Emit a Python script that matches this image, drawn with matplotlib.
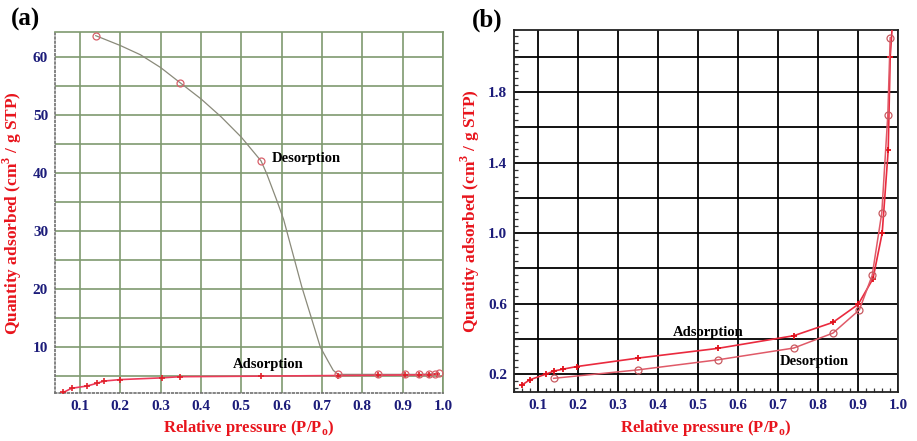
import matplotlib.pyplot as plt
from matplotlib.ticker import MultipleLocator

plt.rcParams['font.family'] = ['Liberation Serif', 'DejaVu Serif']
plt.rcParams['mathtext.fontset'] = 'custom'
plt.rcParams['mathtext.rm'] = 'Liberation Serif'
plt.rcParams['mathtext.bf'] = 'Liberation Serif:bold'

# panel (a) - desorption curve path and its marked points
des_a_x = [0.139, 0.20, 0.25, 0.30, 0.348, 0.40, 0.45, 0.50, 0.549, 0.563, 0.588,
           0.605, 0.65, 0.696, 0.715, 0.728, 0.74, 0.84, 0.905, 0.94, 0.965, 0.985]
des_a_y = [63.7, 62.0, 60.4, 58.2, 55.6, 52.8, 49.7, 46.2, 42.1, 39.9, 35.3,
           32.0, 20.4, 10.0, 7.6, 6.0, 5.3, 5.3, 5.3, 5.3, 5.35, 5.4]
des_a_mx = [0.139, 0.348, 0.549, 0.74, 0.84, 0.905, 0.94, 0.965, 0.98, 0.99]
des_a_my = [63.7, 55.6, 42.1, 5.3, 5.3, 5.3, 5.3, 5.35, 5.4, 5.5]

# panel (a) - adsorption
ads_a_x = [0.059, 0.079, 0.118, 0.141, 0.16, 0.199, 0.303, 0.348, 0.549,
           0.74, 0.84, 0.905, 0.94, 0.965, 0.985]
ads_a_y = [2.2, 2.9, 3.3, 3.75, 4.15, 4.4, 4.7, 4.9, 5.0,
           5.1, 5.15, 5.2, 5.2, 5.25, 5.3]

# panel (b) - adsorption
ads_b_x = [0.06, 0.079, 0.121, 0.141, 0.162, 0.197, 0.35, 0.549, 0.739,
           0.837, 0.90, 0.937, 0.96, 0.975, 0.98, 0.985]
ads_b_y = [0.137, 0.166, 0.20, 0.217, 0.227, 0.242, 0.29, 0.345, 0.417,
           0.493, 0.595, 0.741, 1.0, 1.47, 2.0, 2.17]

# panel (b) - desorption
des_b_x = [0.139, 0.35, 0.549, 0.739, 0.837, 0.903, 0.935, 0.959, 0.974, 0.98]
des_b_y = [0.175, 0.223, 0.28, 0.347, 0.432, 0.564, 0.76, 1.116, 1.67, 2.11]

x_ticks = [0.1, 0.2, 0.3, 0.4, 0.5, 0.6, 0.7, 0.8, 0.9, 1.0]
ya_ticks = [10, 20, 30, 40, 50, 60]
yb_ticks = [0.2, 0.6, 1.0, 1.4, 1.8]

navy = '#1c1c7a'
red = '#e8141c'
green_grid = '#7f9a70'

fig = plt.figure(figsize=(9.17, 4.41), dpi=100)
ax1 = fig.add_axes([0.060, 0.109, 0.423, 0.818])
ax2 = fig.add_axes([0.5605, 0.111, 0.419, 0.821])

ylabel = r'Quantity adsorbed (cm$^{\mathbf{3}}$ / g STP)'
xlabel = r'Relative pressure (P/P$_{\mathbf{o}}$)'

# ---- panel (a)
ax1.set_xlim(0.038, 1.0)
ax1.set_ylim(2.1, 64.3)
ax1.set_xticks(x_ticks)
ax1.set_yticks(ya_ticks)
for v in [5, 15, 25, 35, 45, 55]:
    ax1.axhline(v, color=green_grid, lw=1.2, zorder=0)
ax1.grid(True, which='major', color=green_grid, lw=1.2, zorder=0)
ax1.set_axisbelow(True)
for s in ax1.spines.values():
    s.set_color(green_grid)
    s.set_linewidth(1.2)
ax1.spines['left'].set_color('#707070')
ax1.spines['left'].set_linestyle((0, (1, 1.5)))
ax1.spines['bottom'].set_color('#707070')
ax1.spines['bottom'].set_linestyle((0, (1, 1.5)))
ax1.tick_params(which='both', length=0)
ax1.tick_params(axis='both', labelsize=11, labelcolor=navy, pad=5)

ax1.plot(ads_a_x, ads_a_y, color='#ee3a5a', lw=1.2, marker='+', ms=4,
         mec='#e0202a', mew=1.2, zorder=3)
ax1.plot(des_a_x, des_a_y, color='#8a8a7a', lw=0.9, zorder=2)
ax1.plot(des_a_mx, des_a_my, ls='none', marker='o', ms=5, mfc='none',
         mec='#d8606a', mew=0.9, zorder=4)

ax1.text(0.575, 42.5, 'Desorption', fontsize=10.5, fontweight='bold', va='center')
ax1.text(0.48, 7.0, 'Adsorption', fontsize=10.5, fontweight='bold', va='center')
ax1.set_ylabel(ylabel, color=red, fontsize=12.5, fontweight='bold', labelpad=6)
ax1.set_xlabel(xlabel, color=red, fontsize=12, fontweight='bold', labelpad=4)
for lab in ax1.get_xticklabels() + ax1.get_yticklabels():
    lab.set_fontweight('bold')

# ---- panel (b)
ax2.set_xlim(0.04, 1.0)
ax2.set_ylim(0.097, 2.154)
ax2.set_xticks(x_ticks)
ax2.set_yticks(yb_ticks)
ax2.xaxis.set_minor_locator(MultipleLocator(0.02))
ax2.yaxis.set_minor_locator(MultipleLocator(0.04))
for v in [0.4, 0.8, 1.2, 1.6, 2.0]:
    ax2.axhline(v, color='black', lw=1.3, zorder=0)
ax2.grid(True, which='major', color='black', lw=1.3, zorder=0)
ax2.set_axisbelow(True)
for s in ax2.spines.values():
    s.set_color('#222222')
    s.set_linewidth(1.3)
ax2.tick_params(which='major', length=0)
ax2.tick_params(which='minor', direction='in', length=3, width=0.9, color='#333333')
ax2.tick_params(axis='both', labelsize=11, labelcolor=navy, pad=5)

ax2.plot(ads_b_x, ads_b_y, color='#ea2a3e', lw=1.2, marker='+', ms=5,
         mec='#e0101a', mew=1.3, zorder=3)
ax2.plot(des_b_x, des_b_y, color='#e05a68', lw=1.1, marker='o', ms=5,
         mfc='none', mec='#c85a60', mew=0.9, zorder=3)

ax2.text(0.437, 0.434, 'Adsorption', fontsize=10.5, fontweight='bold', va='center')
ax2.text(0.705, 0.27, 'Desorption', fontsize=10.5, fontweight='bold', va='center')
ax2.set_ylabel(ylabel, color=red, fontsize=12.5, fontweight='bold', labelpad=4)
ax2.set_xlabel(xlabel, color=red, fontsize=12, fontweight='bold', labelpad=4)
for lab in ax2.get_xticklabels() + ax2.get_yticklabels():
    lab.set_fontweight('bold')

fig.text(0.012, 0.955, '(a)', fontsize=18, fontweight='bold', va='center')
fig.text(0.515, 0.955, '(b)', fontsize=18, fontweight='bold', va='center')

fig.savefig('out.png', dpi=100)
